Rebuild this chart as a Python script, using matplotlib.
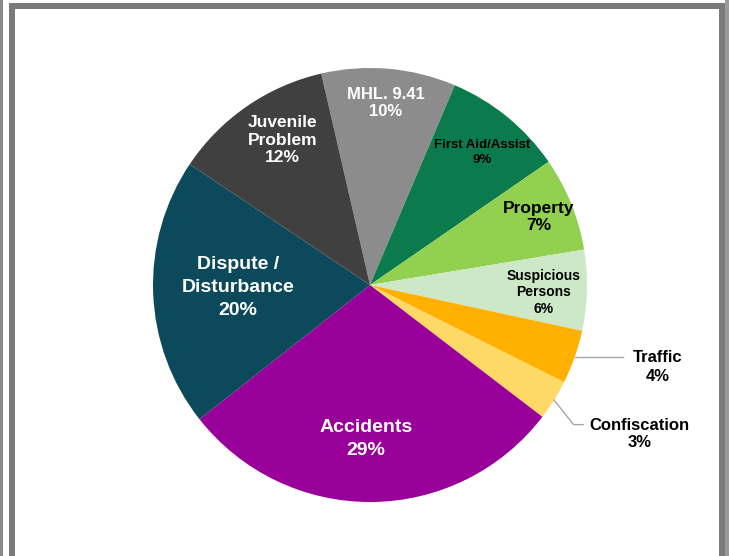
import numpy as np
import matplotlib
matplotlib.use("Agg")
import matplotlib.pyplot as plt
from matplotlib.patches import Rectangle

# ---- data ----
categories = ["MHL. 9.41", "First Aid/Assist", "Property", "Suspicious\nPersons",
              "Traffic", "Confiscation", "Accidents", "Dispute /\nDisturbance",
              "Juvenile\nProblem"]
values = [10, 9, 7, 6, 4, 3, 29, 20, 12]
pct_labels = ["10%", "9%", "7%", "6%", "4%", "3%", "29%", "20%", "12%"]

# ---- style ----
colors = ["#8C8C8C", "#0B7A4D", "#92D050", "#CDE8C6", "#FFB000",
          "#FFD966", "#990099", "#0C4A5B", "#404040"]
text_colors = ["white", "black", "black", "black", "black", "black",
               "white", "white", "white"]
font_sizes = [12, 9.5, 12.5, 10, 12, 12, 14, 14, 12.5]
line_sp = [1.18, 1.27, 1.18, 1.22, 1.28, 1.17, 1.45, 1.45, 1.19]
label_r = [0.84, 0.80, 0.84, 0.80, 1.38, 1.42, 0.71, 0.61, 0.78]
angle_shift = [0, -1, 0, -1, 3.5, 3.0, -2, -1, -3.5]
outside = [False, False, False, False, True, True, False, False, False]

plt.rcParams['font.family'] = ['Liberation Sans', 'DejaVu Sans']

W, H = 729, 556
fig = plt.figure(figsize=(W / 100, H / 100), dpi=100)
fig.patch.set_facecolor("white")

# frame
def px_rect(x0, y0, x1, y1, color):
    fig.patches.append(Rectangle((x0 / W, 1 - y1 / H), (x1 - x0) / W, (y1 - y0) / H,
                                 transform=fig.transFigure, color=color, lw=0,
                                 zorder=0))

px_rect(0, 0, 3, H, "#8A8A8A")
px_rect(9, 3, 15, H, "#7A7A7A")
px_rect(9, 3, 725, 9, "#7A7A7A")
px_rect(719, 3, 725, H, "#7A7A7A")
px_rect(725, 0, W, H, "#9A9A9A")

cx, cy, R = 370, 285, 217
ax = fig.add_axes([(cx - R) / W, (H - cy - R) / H, 2 * R / W, 2 * R / H])
ax.axis("off")

start = 103
wedges, _ = ax.pie(values, colors=colors, startangle=start, counterclock=False,
                   radius=1.0, wedgeprops=dict(linewidth=0),
                   frame=False)
ax.set_xlim(-1, 1)
ax.set_ylim(-1, 1)

for i, w in enumerate(wedges):
    mid = (w.theta1 + w.theta2) / 2 + angle_shift[i]
    th = np.deg2rad(mid)
    tx, ty = label_r[i] * np.cos(th), label_r[i] * np.sin(th)
    txt = categories[i] + "\n" + pct_labels[i]
    ax.text(tx, ty, txt, ha="center", va="center", color=text_colors[i],
            fontsize=font_sizes[i], fontweight="bold", linespacing=line_sp[i],
            clip_on=False)
    if outside[i]:
        thm = np.deg2rad((w.theta1 + w.theta2) / 2)
        ex, ey = np.cos(thm), np.sin(thm)
        top_y = ty + 0.045
        left_x = tx - 0.16 if i == 4 else tx - 0.26
        if i == 4:
            xs = [ex, left_x]
            ys = [top_y, top_y]
        else:
            xs = [ex, ex + 0.09, left_x]
            ys = [ey, top_y, top_y]
        ax.plot(xs, ys, color="#A6A6A6", lw=1, clip_on=False)

fig.savefig("out.png", dpi=100, facecolor="white")
